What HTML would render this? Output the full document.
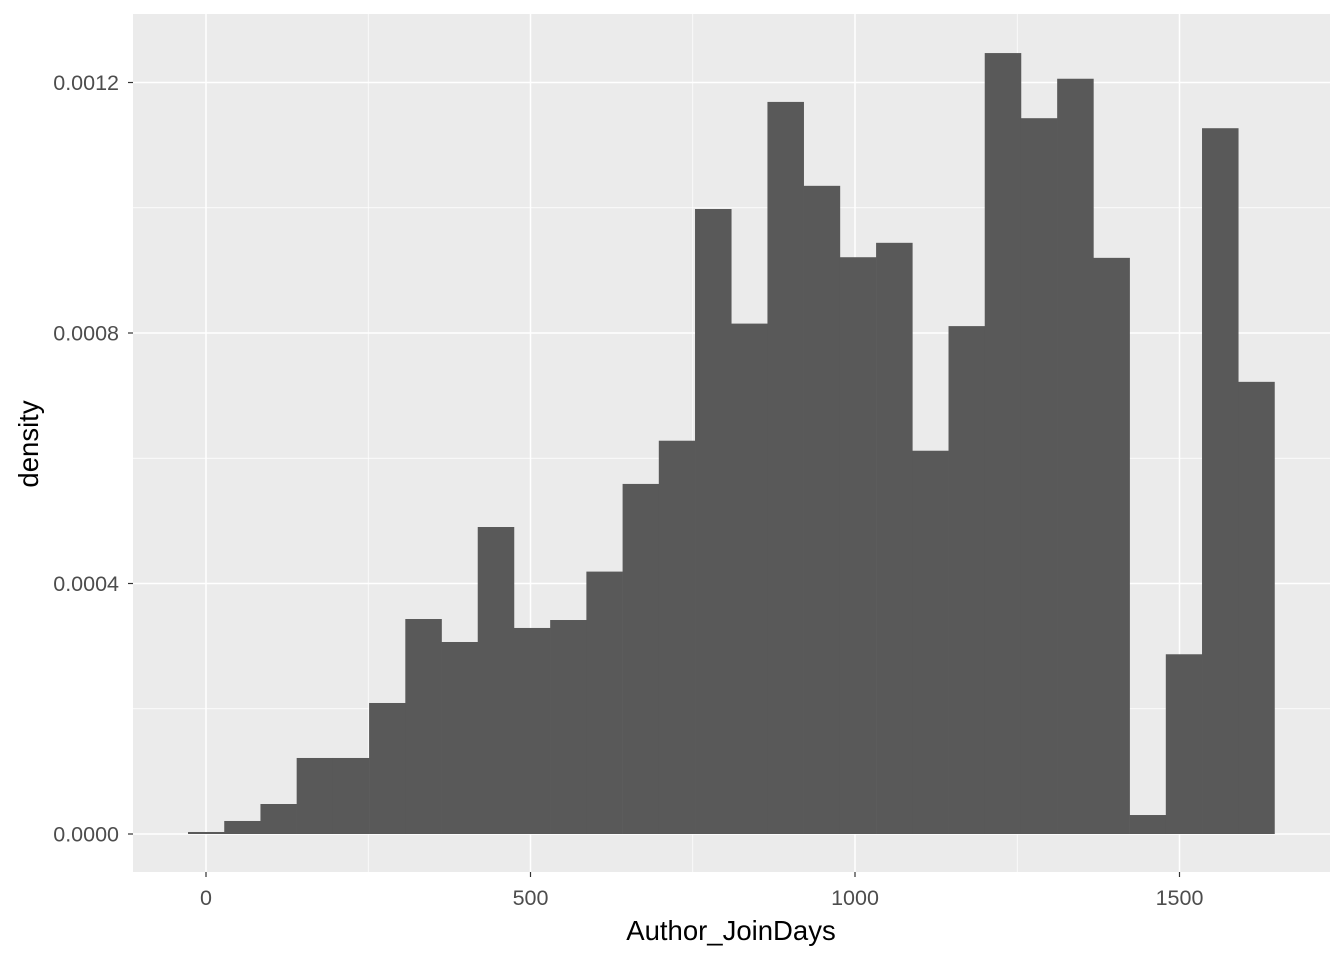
<!DOCTYPE html>
<html><head><meta charset="utf-8"><style>
body{margin:0;background:#fff;}
svg text{font-family:"Liberation Sans",Arial,sans-serif;}
</style></head><body>
<svg id="chart" width="1344" height="960">
<rect x="133" y="14" width="1197" height="858" fill="#ebebeb"/>
<g id="grid"></g><g id="bars"></g><g id="axes"></g>
<text x="731" y="940" text-anchor="middle" font-size="27.5" fill="#000">Author_JoinDays</text>
<text transform="translate(38,444) rotate(-90)" text-anchor="middle" font-size="27.5" fill="#000">density</text>
</svg>
<script>
const binStart = -27.7;
const binWidth = 55.8;
const densities = [0.0000032,0.0000208,0.0000479,0.0001214,0.0001214,0.0002092,0.0003433,0.0003066,0.0004902,0.000329,0.0003417,0.000419,0.000559,0.000628,0.000998,0.000815,0.001169,0.001035,0.000921,0.000944,0.000612,0.000811,0.001247,0.001143,0.001206,0.00092,0.0000303,0.000287,0.001127,0.000722];
const xTicks = [0,500,1000,1500];
const xTickLabels = ["0","500","1000","1500"];
const xMinor = [250,750,1250];
const yTicks = [0,0.0004,0.0008,0.0012];
const yTickLabels = ["0.0000","0.0004","0.0008","0.0012"];
const yMinor = [0.0002,0.0006,0.001];
const NS="http://www.w3.org/2000/svg";
const X=v=>206+v*0.649;
const Y=v=>834-v/0.0004*250.5;
function mk(tag,attrs,parent){const e=document.createElementNS(NS,tag);for(const k in attrs)e.setAttribute(k,attrs[k]);document.getElementById(parent).appendChild(e);return e;}
yMinor.forEach(v=>{const l=mk('line',{x1:133,x2:1330,y1:Y(v),y2:Y(v),stroke:'#fff','stroke-width':0.7},'grid');

});
xMinor.forEach(v=>{const l=mk('line',{x1:X(v),x2:X(v),y1:14,y2:872,stroke:'#fff','stroke-width':0.7},'grid');

});
yTicks.forEach((v,i)=>{const l=mk('line',{x1:133,x2:1330,y1:Y(v),y2:Y(v),stroke:'#fff','stroke-width':1.5},'grid');


const t=mk('line',{x1:128,x2:133,y1:Y(v),y2:Y(v),stroke:'#333','stroke-width':1.2},'axes');


const tx=mk('text',{x:119,y:Y(v)+7.5,'text-anchor':'end','font-size':21.5,fill:'#4d4d4d'},'axes');tx.textContent=yTickLabels[i];

});
xTicks.forEach((v,i)=>{const l=mk('line',{x1:X(v),x2:X(v),y1:14,y2:872,stroke:'#fff','stroke-width':1.5},'grid');


const t=mk('line',{x1:X(v),x2:X(v),y1:872,y2:877,stroke:'#333','stroke-width':1.2},'axes');


const tx=mk('text',{x:X(v),y:905,'text-anchor':'middle','font-size':21.5,fill:'#4d4d4d'},'axes');tx.textContent=xTickLabels[i];

});
densities.forEach((d,i)=>{const x0=X(binStart+i*binWidth),x1=X(binStart+(i+1)*binWidth);
const r=mk('rect',{x:x0,y:Y(d),width:x1-x0+0.3,height:Y(0)-Y(d),fill:'#595959'},'bars');

});
</script>
</body></html>
